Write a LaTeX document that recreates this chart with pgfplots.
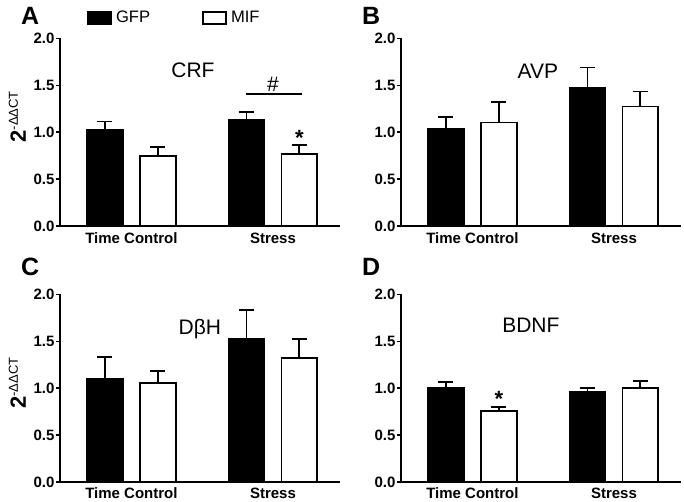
\documentclass[border=0pt]{standalone}
\usepackage{fontspec}
\setmainfont{Liberation Sans}
\usepackage{pgfplots}
\pgfplotsset{compat=1.18}
\usepackage{pgfplotstable}

% group 0 = Time Control, 1 = Stress; e = SEM (upper error bar)
\pgfplotstableread{
grp gfp   gfpe  mif   mife
0   1.027 0.088 0.747 0.095
1   1.126 0.088 0.768 0.099
}\crf
\pgfplotstableread{
grp gfp   gfpe  mif   mife
0   1.034 0.124 1.104 0.216
1   1.470 0.220 1.274 0.160
}\avp
\pgfplotstableread{
grp gfp   gfpe  mif   mife
0   1.094 0.239 1.052 0.128
1   1.527 0.303 1.320 0.203
}\dbh
\pgfplotstableread{
grp gfp   gfpe  mif   mife
0   1.006 0.056 0.756 0.042
1   0.957 0.049 1.006 0.070
}\bdnf

\pgfplotsset{
  panel/.style={
    scale only axis, width=140pt, height=93.8pt,
    anchor=south west,
    axis lines=left, axis line style={-, line width=0.75pt},
    xmin=-0.505, xmax=1.474, ymin=0, ymax=2,
    xtick={0,1}, xticklabels={Time Control,Stress},
    ytick={0,0.5,1,1.5,2},
    yticklabel style={/pgf/number format/fixed, /pgf/number format/fixed zerofill,
      /pgf/number format/precision=1, /pgf/number format/assume math mode=true,
      inner sep=0.6pt},
    xticklabel style={inner sep=0.5pt, yshift=-0.8pt},
    tick label style={font=\fontsize{7.5}{9}\selectfont\bfseries},
    x tick style={draw=none},
    y tick style={line width=0.75pt, black},
    tick align=outside, major tick length=2pt,
    clip=false,
  },
  lower/.style={xticklabel style={yshift=0.6pt}},
  ylab/.style={
    ylabel={{\fontsize{11}{12}\selectfont\bfseries 2}{\fontsize{6.5}{7}\selectfont\raisebox{4pt}{-ΔΔCT}}},
    ylabel style={at={(axis description cs:-0.152,#1)}, anchor=center},
  },
  gfpbar/.style={ybar, bar width=0.254, bar shift=0pt, fill=black, draw=black, line width=0.9pt,
    legend image code/.code={\draw[line width=0.9pt, draw=black, fill=black] (0pt,-3pt) rectangle (11.5pt,3pt);},
    error bars/.cd, y dir=plus, y explicit,
    error bar style={line width=0.9pt, black},
    error mark options={rotate=90, line width=0.9pt, mark size=3.75pt, black}},
  mifbar/.style={ybar, bar width=0.254, bar shift=0pt, fill=white, draw=black, line width=0.9pt,
    legend image code/.code={\draw[line width=0.9pt, draw=black, fill=white] (0pt,-3pt) rectangle (11.5pt,3pt);},
    error bars/.cd, y dir=plus, y explicit,
    error bar style={line width=0.9pt, black},
    error mark options={rotate=90, line width=0.9pt, mark size=3.75pt, black}},
}

\newcommand{\lbl}{\fontsize{10.5}{12}\selectfont}
\newcommand{\letter}{\fontsize{12.5}{14}\selectfont\bfseries}

\begin{document}
\begin{tikzpicture}
\useasboundingbox (0,0) rectangle (342pt,251pt);

% A: CRF
\begin{axis}[panel, ylab=0.582, at={(30pt,138pt)},
  legend columns=2,
  legend style={at={(rel axis cs:0.096,1.109)}, anchor=west, draw=none, fill=none,
    inner sep=0pt, font=\fontsize{8.3}{10}\selectfont,
    /tikz/every even column/.append style={column sep=24pt}}]
\addplot[gfpbar] table[x expr=\thisrow{grp}-0.187, y=gfp, y error=gfpe]{\crf};
\addplot[mifbar] table[x expr=\thisrow{grp}+0.187, y=mif, y error=mife]{\crf};
\legend{GFP,MIF}
\node[font=\lbl] at (axis cs:0.435,1.66) {CRF};
\draw[line width=0.75pt] (axis cs:0.809,1.405) -- (axis cs:1.205,1.405);
\node[font=\lbl] at (axis cs:1.0,1.51) {\#};
\node[font=\fontsize{11}{12}\selectfont\bfseries] at (axis cs:1.187,0.94) {*};
\node[font=\letter] at (rel axis cs:-0.107,1.121) {A};
\end{axis}

% B: AVP
\begin{axis}[panel, at={(200.5pt,138pt)}]
\addplot[gfpbar] table[x expr=\thisrow{grp}-0.187, y=gfp, y error=gfpe]{\avp};
\addplot[mifbar] table[x expr=\thisrow{grp}+0.187, y=mif, y error=mife]{\avp};
\node[font=\lbl] at (axis cs:0.463,1.65) {AVP};
\node[font=\letter] at (rel axis cs:-0.107,1.121) {B};
\end{axis}

% C: DbH
\begin{axis}[panel, lower, ylab=0.527, at={(30pt,10pt)}]
\addplot[gfpbar] table[x expr=\thisrow{grp}-0.187, y=gfp, y error=gfpe]{\dbh};
\addplot[mifbar] table[x expr=\thisrow{grp}+0.187, y=mif, y error=mife]{\dbh};
\node[font=\lbl] at (axis cs:0.484,1.63) {DβH};
\node[font=\letter] at (rel axis cs:-0.107,1.146) {C};
\end{axis}

% D: BDNF
\begin{axis}[panel, lower, at={(200.5pt,10pt)}]
\addplot[gfpbar] table[x expr=\thisrow{grp}-0.187, y=gfp, y error=gfpe]{\bdnf};
\addplot[mifbar] table[x expr=\thisrow{grp}+0.187, y=mif, y error=mife]{\bdnf};
\node[font=\lbl] at (axis cs:0.413,1.674) {BDNF};
\node[font=\fontsize{11}{12}\selectfont\bfseries] at (axis cs:0.187,0.89) {*};
\node[font=\letter] at (rel axis cs:-0.107,1.146) {D};
\end{axis}
\end{tikzpicture}
\end{document}
